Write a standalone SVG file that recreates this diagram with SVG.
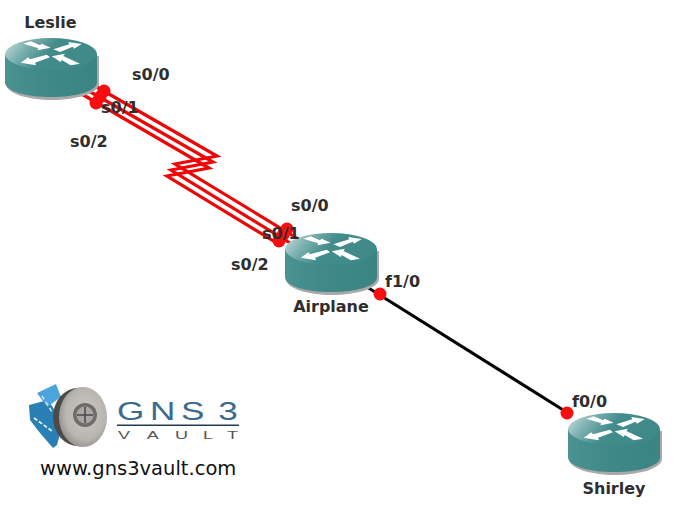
<svg xmlns="http://www.w3.org/2000/svg" width="673" height="506" viewBox="0 0 673 506">
<style>
.lbl{font-family:"DejaVu Sans",sans-serif;font-weight:700;font-size:16px;fill:#2e2e2e}
.nm{text-anchor:middle}
.ser{fill:none;stroke:#ee0505;stroke-width:3.200}
.eth{fill:none;stroke:#000;stroke-width:3}
.dot{fill:#f80d10}
.arrow{fill:#fff}
</style>
<defs>
<linearGradient id="top" x1="0" x2="1" y1="0.2" y2="0.5">
<stop offset="0" stop-color="#c4d8d8"/><stop offset="0.22" stop-color="#7db2b1"/><stop offset="0.5" stop-color="#428c8b"/><stop offset="1" stop-color="#3f8a89"/>
</linearGradient>
<linearGradient id="side" x1="0" x2="1" y1="0" y2="0">
<stop offset="0" stop-color="#4b9291"/><stop offset="0.5" stop-color="#3e8887"/><stop offset="1" stop-color="#3a8483"/>
</linearGradient>
<radialGradient id="disk" cx="0.55" cy="0.45" r="0.6">
<stop offset="0" stop-color="#cfccc8"/><stop offset="0.7" stop-color="#b8b5b1"/><stop offset="1" stop-color="#8f8c88"/>
</radialGradient>
<symbol id="router" width="96" height="64" viewBox="0 0 96 64" overflow="visible">
<path d="M1 18V46C1 55 22 62 47 62S94 55 94 46V18Z" fill="#a9a9a9"/>
<path d="M0 16V44C0 53 20 59 46 59S92 53 92 44V16Z" fill="url(#side)"/>
<ellipse cx="46" cy="16" rx="46" ry="16" fill="url(#top)"/>
<path class="arrow" d="M18.300 5.700L25.700 3.300L35 7.300L36.700 5.700L45.700 9.700L32.300 12.300L33.300 10.300Z"/>
<path class="arrow" d="M48.300 11.300L64.300 6.300L63.300 4L76.700 6L69 10.700L67.700 8.700L55 14Z"/>
<path class="arrow" d="M41.700 16.700L45 19.300L30 24.700L31 27.300L15.700 24.700L23.300 19.300L25 21.300Z"/>
<path class="arrow" d="M75 25.700L65.700 27.300L56.700 22L55.700 24L46.700 18.300L60 15.700L58.300 18Z"/>
</symbol>
</defs>
<g id="connectors">
<path class="ser" d="M95 86L217 156L175 164L300 240"/>
<path class="ser" d="M87 90L213 162L171 170L290 243"/>
<path class="ser" d="M80 93L209 168L167 176L280 245"/>
<path class="eth" d="M367 287L568 413"/>
</g>
<g id="Leslie"><use href="#router" x="5" y="38"/><text class="lbl nm" x="50.500" y="28">Leslie</text></g>
<g id="Airplane"><use href="#router" x="285" y="233"/><text class="lbl nm" x="331" y="312">Airplane</text></g>
<g id="Shirley"><use href="#router" x="568" y="413"/><text class="lbl nm" x="614" y="494">Shirley</text></g>
<g id="ports">
<circle class="dot" cx="104" cy="91" r="6.500"/><circle class="dot" cx="100" cy="97" r="6.500"/><circle class="dot" cx="96" cy="103" r="6.500"/>
<circle class="dot" cx="287" cy="229" r="6.500"/><circle class="dot" cx="283" cy="235" r="6.500"/><circle class="dot" cx="279" cy="241" r="6.500"/>
<circle class="dot" cx="380" cy="294" r="6.500"/><circle class="dot" cx="567" cy="413" r="6.500"/>
<text class="lbl" x="132" y="80">s0/0</text><text class="lbl" x="101" y="113">s0/1</text><text class="lbl" x="70" y="147">s0/2</text>
<text class="lbl" x="291" y="211">s0/0</text><text class="lbl" x="262" y="239">s0/1</text><text class="lbl" x="231" y="270">s0/2</text>
<text class="lbl" x="385" y="287">f1/0</text><text class="lbl" x="572" y="407">f0/0</text>
</g>
<g id="logo">
<path d="M29 405L48 400L63 423L57 445L53 448L40 433L30 420Z" fill="#2a7fb5"/>
<path d="M37 393L56 384L61 397L47 407Z" fill="#4ba5dc"/>
<path d="M34 418L52 431" stroke="#e8f2f8" stroke-width="1.800" stroke-dasharray="4 2" fill="none"/>
<path d="M42 396L52 412" stroke="#d5e8f3" stroke-width="1.500" stroke-dasharray="4 3" fill="none"/>
<ellipse cx="78" cy="417" rx="25" ry="29" fill="#4d4b49"/>
<ellipse cx="83" cy="417" rx="24" ry="30" fill="url(#disk)"/>
<circle cx="85" cy="415" r="12" fill="#6f6d6a"/><circle cx="85" cy="415" r="8.500" fill="#a9a7a3"/>
<path d="M85 407V423M77 415H93" stroke="#4a4744" stroke-width="1.500"/>
<text transform="translate(117 420) scale(1.35 1)" x="0 24.400 47.500 75" y="0" font-family="'Liberation Sans',sans-serif" font-size="26" fill="#3b6b8c">GNS3</text>
<rect x="117" y="424.500" width="122" height="1.500" fill="#1d3b52"/>
<text transform="translate(118 438.500) scale(1.8 1)" x="0 16 31.700 47.200 60.500" y="0" font-family="'Liberation Sans',sans-serif" font-size="10" fill="#555">VAULT</text>
<text x="40" y="474.500" font-family="'DejaVu Sans',sans-serif" font-size="19.500" fill="#111">www.gns3vault.com</text>
</g>
</svg>
